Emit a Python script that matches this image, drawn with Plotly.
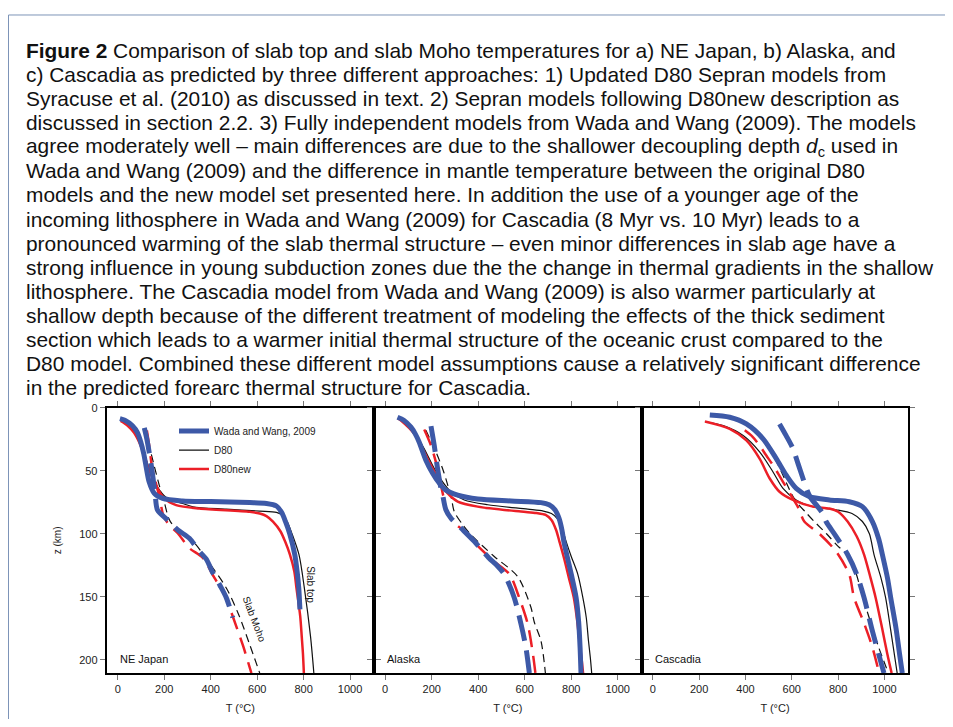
import plotly.graph_objects as go

# the browser's default page margin (8 px) is compensated below
OFF = 8
W, H = 953 - OFF, 727 - 2 * OFF

# ---------------- data ----------------
T_TICKS = [0, 200, 400, 600, 800, 1000]
Z_TICKS = [0, 50, 100, 150, 200]
REGIONS = ["NE Japan", "Alaska", "Cascadia"]
MODEL_NAMES = ["D80", "D80new", "Wada and Wang, 2009"]

# NE Japan -- slab top
jp_d80_top_T = [12, 40, 70, 99, 120, 135, 171, 207, 279, 323, 467, 611, 683, 710, 729, 750, 780, 803, 830, 844]
jp_d80_top_z = [10, 13, 19, 30, 40, 48.5, 63, 71, 76, 78.6, 80.5, 82, 83, 85.5, 90.4, 100, 116.6, 142.9, 182, 210.5]
jp_new_top_T = [12, 40, 70, 92, 112, 128, 164, 200, 251, 351, 568, 611, 640, 668, 700, 720, 741, 760, 769, 785, 792, 797, 801]
jp_new_top_z = [10.5, 14, 20, 27.5, 37, 46, 61.6, 72, 77.3, 80, 82.6, 84, 86, 90.4, 98, 106, 116.6, 130, 142.9, 165, 182, 195, 210.5]
jp_ww_top_T = [9, 30, 63, 85, 99, 112, 121, 135, 157, 193, 279, 400, 568, 640, 683, 705, 722, 740, 762, 772, 779, 784]
jp_ww_top_z = [8.7, 10, 14.4, 20, 27.5, 37, 46, 59, 68, 72, 74, 74.5, 75.3, 76, 78, 83, 90.4, 100, 116.6, 130, 142.9, 160]
# NE Japan -- slab Moho
jp_d80_moho_T = [118, 135, 155, 179, 200, 222, 260, 323, 395, 467, 520, 566, 611]
jp_d80_moho_z = [17, 30, 45, 62, 75, 89, 98, 106, 123.5, 143, 164, 187, 210.5]
jp_new_moho_T = [125, 135, 147, 164, 182, 195, 220, 258, 308, 365, 416, 467, 489, 539, 575]
jp_new_moho_z = [18, 30, 47, 60, 73, 85, 93, 99.6, 111.4, 119, 135, 150.7, 162.5, 188.8, 210.5]
jp_ww_moho_T = [114, 125, 135, 145, 153, 161, 171, 214, 258, 308, 351, 380, 409, 440, 467, 495]
jp_ww_moho_z = [16, 25, 35.4, 47, 58, 69.5, 81.3, 89, 97, 103.6, 114, 120, 131, 141, 150.7, 166.5]

# Alaska -- slab top
ak_d80_top_T = [60, 95, 125, 168, 211, 247, 283, 340, 441, 613, 680, 715, 740, 760, 778, 800, 828, 850, 865, 874, 882, 888]
ak_d80_top_z = [9, 13, 19.4, 32.6, 48.3, 58.8, 66.7, 73.2, 77, 80.5, 82, 84, 88, 95, 106, 118, 132, 150.6, 167, 184.7, 198, 210.5]
ak_new_top_T = [55, 68, 125, 168, 204, 240, 269, 312, 398, 584, 650, 690, 715, 735, 749, 770, 790, 811, 825, 835, 845, 851]
ak_new_top_z = [8.5, 10.2, 20.7, 35.2, 48.3, 60, 68, 74.5, 78.5, 82.4, 83.5, 85, 89, 97, 106, 120, 135, 150.6, 168, 184.7, 200, 210.5]
ak_ww_top_T = [53, 80, 111, 130, 146, 175, 204, 233, 261, 312, 398, 541, 670, 705, 730, 748, 760, 768, 785, 800, 821, 832, 838, 842]
ak_ww_top_z = [7.6, 10, 15.5, 21, 27.3, 41.7, 52, 60, 65.4, 69.3, 72.4, 74, 75.3, 77, 81, 88, 97, 106, 120, 132, 150.7, 170, 190, 210.5]
# Alaska -- slab Moho
ak_d80_moho_T = [175, 218, 250, 269, 285, 297, 330, 369, 469, 570, 627, 641, 670, 689]
ak_d80_moho_z = [18, 35, 50, 61.4, 72, 82.4, 92, 100.8, 118, 134, 158.5, 170, 185, 210.5]
ak_new_moho_T = [168, 197, 225, 238, 250, 262, 290, 340, 400, 469, 534, 575, 613, 635, 646]
ak_new_moho_z = [17.3, 30, 48, 60, 70, 80, 90, 98, 110, 122, 132, 150, 171.6, 195, 210.5]
ak_ww_moho_T = [197, 211, 225, 240, 246, 261, 283, 326, 383, 445, 480, 512, 555, 584, 605, 620]
ak_ww_moho_z = [14.7, 30, 48, 64, 68, 81, 87.7, 95.5, 106, 119, 125, 132, 150.7, 171.6, 190, 210.5]

# Cascadia -- slab top
cs_d80_top_T = [225, 304, 390, 461, 519, 562, 619, 691, 791, 860, 905, 935, 955, 985, 1005, 1030, 1055]
cs_d80_top_z = [11, 14.2, 22, 35, 51, 64, 73.2, 78.5, 81, 84, 90.3, 100, 116.5, 135, 150.7, 180, 210.5]
cs_new_top_T = [225, 332, 404, 461, 504, 547, 605, 691, 762, 800, 841, 880, 912, 940, 962, 990, 1012, 1031]
cs_new_top_z = [11, 16.8, 26, 40.4, 56, 66.7, 73.2, 78.5, 80, 82.5, 90.3, 102, 116.5, 135, 150.7, 175, 195, 210.5]
cs_ww_top_T = [246, 332, 404, 476, 533, 576, 619, 676, 762, 848, 905, 948, 975, 991, 1013, 1027, 1050, 1065, 1077]
cs_ww_top_z = [5.8, 7.6, 12.9, 24.7, 40.4, 53.6, 64, 70.6, 73.2, 74.6, 78.5, 90.3, 104, 116.5, 135, 150.7, 175, 195, 210.5]
# Cascadia -- slab Moho
cs_d80_moho_T = [425, 460, 504, 540, 562, 590, 619, 660, 697, 750, 800, 841, 875, 907, 940, 975, 1017]
cs_d80_moho_z = [16.8, 22, 32.5, 45, 53.6, 65, 74.6, 83, 90.3, 100, 110, 116.5, 130, 150.7, 170, 190, 210.5]
cs_new_moho_T = [397, 430, 461, 490, 519, 562, 605, 630, 654, 719, 791, 848, 869, 910, 948, 977]
cs_new_moho_z = [18, 23, 30, 38, 45.7, 58.8, 72, 80, 90.3, 100, 114, 132.3, 150.7, 170, 190, 210.5]
cs_ww_moho_T = [547, 575, 605, 628, 648, 665, 683, 710, 734, 748, 791, 841, 880, 912, 945, 970, 998]
cs_ww_moho_z = [12.9, 22, 32.5, 45, 56, 65, 72, 78, 84, 90.3, 102, 116.5, 132, 150.7, 175, 192, 210.5]

CAPTION_LINES = [
    "<b>Figure 2</b> Comparison of slab top and slab Moho temperatures for a) NE Japan, b) Alaska, and",
    "c) Cascadia as predicted by three different approaches: 1) Updated D80 Sepran models from",
    "Syracuse et al. (2010) as discussed in text. 2) Sepran models following D80new description as",
    "discussed in section 2.2. 3) Fully independent models from Wada and Wang (2009). The models",
    "agree moderately well \u2013 main differences are due to the shallower decoupling depth <i>d</i><sub>c</sub> used in",
    "Wada and Wang (2009) and the difference in mantle temperature between the original D80",
    "models and the new model set presented here. In addition the use of a younger age of the",
    "incoming lithosphere in Wada and Wang (2009) for Cascadia (8 Myr vs. 10 Myr) leads to a",
    "pronounced warming of the slab thermal structure \u2013 even minor differences in slab age have a",
    "strong influence in young subduction zones due the the change in thermal gradients in the shallow",
    "lithosphere. The Cascadia model from Wada and Wang (2009) is also warmer particularly at",
    "shallow depth because of the different treatment of modeling the effects of the thick sediment",
    "section which leads to a warmer initial thermal structure of the oceanic crust compared to the",
    "D80 model. Combined these different model assumptions cause a relatively significant difference",
    "in the predicted forearc thermal structure for Cascadia.",
]

# ---------------- styling ----------------
FONT = "Liberation Sans, Arial, Helvetica, sans-serif"
STYLES = {
    "D80": dict(color="#111111", width=1.2, dash="8px,5px"),
    "D80new": dict(color="#ec1f27", width=2.5, dash="17px,9px"),
    "Wada and Wang, 2009": dict(color="#3d59a7", width=5, dash="26px,10px"),
}
LEGEND_RANK = {"Wada and Wang, 2009": 1, "D80": 2, "D80new": 3}


def px(x):
    return (x - OFF) / W


def py(y):
    return 1 - (y - OFF) / H


panels = [
    [(jp_d80_top_T, jp_d80_top_z, jp_d80_moho_T, jp_d80_moho_z),
     (jp_new_top_T, jp_new_top_z, jp_new_moho_T, jp_new_moho_z),
     (jp_ww_top_T, jp_ww_top_z, jp_ww_moho_T, jp_ww_moho_z)],
    [(ak_d80_top_T, ak_d80_top_z, ak_d80_moho_T, ak_d80_moho_z),
     (ak_new_top_T, ak_new_top_z, ak_new_moho_T, ak_new_moho_z),
     (ak_ww_top_T, ak_ww_top_z, ak_ww_moho_T, ak_ww_moho_z)],
    [(cs_d80_top_T, cs_d80_top_z, cs_d80_moho_T, cs_d80_moho_z),
     (cs_new_top_T, cs_new_top_z, cs_new_moho_T, cs_new_moho_z),
     (cs_ww_top_T, cs_ww_top_z, cs_ww_moho_T, cs_ww_moho_z)],
]

fig = go.Figure()
for p, models in enumerate(panels):
    sfx = "" if p == 0 else str(p + 1)
    for name, (tT, tz, mT, mz) in zip(MODEL_NAMES, models):
        st = STYLES[name]
        fig.add_trace(go.Scatter(
            x=mT, y=mz, mode="lines", xaxis="x" + sfx, yaxis="y" + sfx,
            line=dict(color=st["color"], width=st["width"], dash=st["dash"], shape="spline", smoothing=0.8),
            showlegend=False, hoverinfo="skip"))
        fig.add_trace(go.Scatter(
            x=tT, y=tz, mode="lines", xaxis="x" + sfx, yaxis="y" + sfx, name=name,
            legendrank=LEGEND_RANK[name],
            line=dict(color=st["color"], width=st["width"], shape="spline", smoothing=0.8),
            showlegend=(p == 0), hoverinfo="skip"))

# plot geometry (page pixels)
left_px = [106.7, 374.0, 641.7, 908.3]
top_px, bot_px = 405.0, 672.7
ydom = [py(bot_px), py(top_px)]

axis_common = dict(
    showgrid=False, zeroline=False, showline=True, linecolor="#000", linewidth=2,
    mirror="ticks", ticks="outside", ticklen=5, tickwidth=1, tickcolor="#777",
    tickfont=dict(family=FONT, size=11, color="#222"),
)
layout = dict(
    width=W, height=H, margin=dict(l=0, r=0, t=0, b=0),
    paper_bgcolor="white", plot_bgcolor="white",
    font=dict(family=FONT, color="#222"),
    showlegend=True,
    legend=dict(x=px(174), y=py(414), xanchor="left", yanchor="top",
                bgcolor="rgba(0,0,0,0)", font=dict(size=10, family=FONT, color="#222"),
                tracegroupgap=0),
)
for p in range(3):
    sfx = "" if p == 0 else str(p + 1)
    layout["xaxis" + sfx] = dict(
        axis_common, domain=[px(left_px[p]), px(left_px[p + 1])], range=[-48, 1103],
        tickvals=T_TICKS, anchor="y" + sfx,
        title=dict(text="T (\u00b0C)", font=dict(size=11, family=FONT, color="#222"), standoff=10),
    )
    ydict = dict(
        axis_common, domain=ydom, range=[210.5, 0], tickvals=Z_TICKS, anchor="x" + sfx,
        showticklabels=(p == 0),
    )
    if p == 0:
        ydict["title"] = dict(text="z (km)", font=dict(size=10, family=FONT, color="#222"), standoff=16)
    layout["yaxis" + sfx] = ydict

fig.update_layout(**layout)

# panel labels
for p, reg in enumerate(REGIONS):
    sfx = "" if p == 0 else str(p + 1)
    fig.add_annotation(x=0, y=199, xref="x" + sfx, yref="y" + sfx, text=reg, showarrow=False,
                       xanchor="left", yanchor="middle", font=dict(size=11, family=FONT, color="#111"))

fig.add_annotation(x=832, y=140, xref="x", yref="y", text="Slab top", textangle=90, showarrow=False,
                   font=dict(size=10, family=FONT, color="#111"))
fig.add_annotation(x=588, y=168, xref="x", yref="y", text="Slab Moho", textangle=69, showarrow=False,
                   font=dict(size=10, family=FONT, color="#111"))

# caption
for i, line in enumerate(CAPTION_LINES):
    fig.add_annotation(x=px(24), y=py(45 + 24.25 * i), xref="paper", yref="paper",
                       text=line, showarrow=False, xanchor="left", yanchor="middle",
                       font=dict(size=20.9, family=FONT, color="#111"))

# figure frame
fig.add_shape(type="rect", xref="paper", yref="paper", x0=px(8.5), x1=1.05, y0=-0.05, y1=py(9),
              line=dict(color="#7d94b8", width=1), layer="below")

fig.write_html("out.html")
